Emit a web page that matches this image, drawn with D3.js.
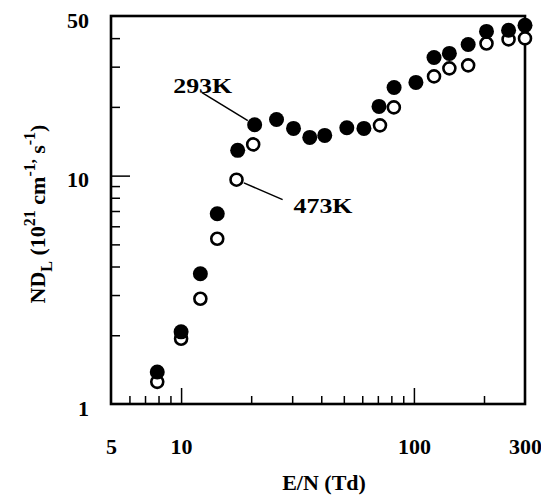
<!DOCTYPE html>
<html>
<head>
<meta charset="utf-8">
<script src="https://cdn.jsdelivr.net/npm/d3@7"></script>
<style>
  body { margin: 0; background: #fff; }
  svg { display: block; font-family: "Liberation Serif", "DejaVu Serif", serif; font-weight: bold; }
</style>
</head>
<body>
<div id="chart"></div>
<script>
// E/N (Td) and ND_L values
const en293 = [7.9, 10.0, 12.1, 14.3, 17.5, 20.7, 25.7, 30.4, 35.7, 41.4, 51.5, 61.0, 70.8, 82.2, 102, 122, 142, 171, 205, 255, 300];
const nd293 = [1.38, 2.07, 3.72, 6.81, 12.9, 16.7, 17.6, 16.1, 14.7, 15.0, 16.2, 16.1, 20.1, 24.3, 25.6, 32.9, 34.3, 37.5, 42.8, 43.3, 45.5];

const en473 = [7.9, 10.0, 12.1, 14.3, 17.3, 20.4, 71.5, 82.0, 122, 142, 171, 205, 255, 300];
const nd473 = [1.25, 1.93, 2.89, 5.29, 9.6, 13.7, 16.6, 19.9, 27.2, 29.5, 30.4, 37.9, 39.5, 39.9];

const xLabelTicks = [5, 10, 100, 300];
const xMajorTicks = [10, 100];
const xMinorTicks = [6, 7, 8, 9, 20, 30, 40, 50, 60, 70, 80, 90, 200];
const yLabelTicks = [1, 10, 50];
const yMajorTicks = [10];
const yMinorTicks = [2, 3, 4, 5, 6, 7, 8, 9, 20, 30, 40];

// labels with leader lines: point, end of line, text anchor (data units)
const notes = [
  { text: "293K", px: 20.7, py: 16.7, lx: 12.3, ly: 23.1, tx: 9.25, ty: 23.1 },
  { text: "473K", px: 17.3, py: 9.6, lx: 27.3, ly: 7.85, tx: 30.4, ty: 6.88 }
];

const width = 541, height = 496;
const margin = { top: 16, right: 16, bottom: 92, left: 111 };

const x = d3.scaleLog().domain([5, 300]).range([margin.left, width - margin.right]);
const y = d3.scaleLog().domain([1, 50]).range([height - margin.bottom, margin.top]);

const svg = d3.select("#chart").append("svg")
    .attr("width", width)
    .attr("height", height);

const bottom = height - margin.bottom;

// x ticks (pointing inward)
svg.append("g")
    .attr("transform", `translate(0,${bottom})`)
    .call(d3.axisBottom(x).tickValues(xMinorTicks).tickSize(-8).tickFormat(""))
    .call(g => g.select(".domain").remove());
svg.append("g")
    .attr("transform", `translate(0,${bottom})`)
    .call(d3.axisBottom(x).tickValues(xMajorTicks).tickSize(-16).tickFormat(""))
    .call(g => g.select(".domain").remove());
svg.append("g")
    .attr("transform", `translate(0,${bottom})`)
    .call(d3.axisBottom(x).tickValues(xLabelTicks).tickSize(0).tickPadding(34).tickFormat(d3.format("d")))
    .call(g => g.select(".domain").remove())
    .call(g => g.selectAll("text")
        .attr("font-family", "Liberation Serif")
        .attr("font-weight", "bold")
        .attr("font-size", 22)
        .attr("fill", "#000"));

// y ticks
svg.append("g")
    .attr("transform", `translate(${margin.left},0)`)
    .call(d3.axisLeft(y).tickValues(yMinorTicks).tickSize(-9).tickFormat(""))
    .call(g => g.select(".domain").remove());
svg.append("g")
    .attr("transform", `translate(${margin.left},0)`)
    .call(d3.axisLeft(y).tickValues(yMajorTicks).tickSize(-19).tickFormat(""))
    .call(g => g.select(".domain").remove());
svg.append("g")
    .attr("transform", `translate(${margin.left},0)`)
    .call(d3.axisLeft(y).tickValues(yLabelTicks).tickSize(0).tickPadding(22).tickFormat(d3.format("d")))
    .call(g => g.select(".domain").remove())
    .call(g => g.selectAll("text")
        .attr("dy", 11)
        .attr("font-family", "Liberation Serif")
        .attr("font-weight", "bold")
        .attr("font-size", 22)
        .attr("fill", "#000"));

svg.selectAll(".tick line").attr("stroke", "#000").attr("stroke-width", 1.5);

// frame
svg.append("rect")
    .attr("x", margin.left)
    .attr("y", margin.top)
    .attr("width", width - margin.left - margin.right)
    .attr("height", bottom - margin.top)
    .attr("fill", "none")
    .attr("stroke", "#000")
    .attr("stroke-width", 2.6);

// leader lines
notes.forEach(n => {
    const x0 = x(n.px), y0 = y(n.py), x1 = x(n.lx), y1 = y(n.ly);
    const len = Math.hypot(x1 - x0, y1 - y0);
    const r = 8;
    svg.append("line")
        .attr("x1", x0 + (x1 - x0) * r / len)
        .attr("y1", y0 + (y1 - y0) * r / len)
        .attr("x2", x1)
        .attr("y2", y1)
        .attr("stroke", "#000")
        .attr("stroke-width", 1.5);
    svg.append("text")
        .attr("x", x(n.tx))
        .attr("y", y(n.ty))
        .attr("font-size", 22)
        .attr("textLength", 59)
        .attr("lengthAdjust", "spacingAndGlyphs")
        .text(n.text);
});

// 473K open circles (drawn first, filled ones sit on top)
svg.append("g")
    .selectAll("circle")
    .data(en473.map((d, i) => [d, nd473[i]]))
    .join("circle")
    .attr("cx", d => x(d[0]))
    .attr("cy", d => y(d[1]))
    .attr("r", 6)
    .attr("fill", "#fff")
    .attr("stroke", "#000")
    .attr("stroke-width", 2.6);

// 293K filled circles
svg.append("g")
    .selectAll("circle")
    .data(en293.map((d, i) => [d, nd293[i]]))
    .join("circle")
    .attr("cx", d => x(d[0]))
    .attr("cy", d => y(d[1]))
    .attr("r", 7.5)
    .attr("fill", "#000");

// axis titles
svg.append("text")
    .attr("x", 324)
    .attr("y", 490)
    .attr("text-anchor", "middle")
    .attr("font-size", 22)
    .text("E/N (Td)");

const yt = svg.append("text")
    .attr("transform", "translate(45,214) rotate(-90)")
    .attr("text-anchor", "middle")
    .attr("font-size", 22);
yt.append("tspan").text("ND");
yt.append("tspan").attr("font-size", 16).attr("dy", 7).text("L");
yt.append("tspan").attr("dy", -7).text(" (10");
yt.append("tspan").attr("font-size", 16).attr("dy", -10).text("21");
yt.append("tspan").attr("dy", 10).text(" cm");
yt.append("tspan").attr("font-size", 16).attr("dy", -10).text("-1,");
yt.append("tspan").attr("dy", 10).text(" s");
yt.append("tspan").attr("font-size", 16).attr("dy", -10).text("-1");
yt.append("tspan").attr("dy", 10).text(")");
</script>
</body>
</html>
